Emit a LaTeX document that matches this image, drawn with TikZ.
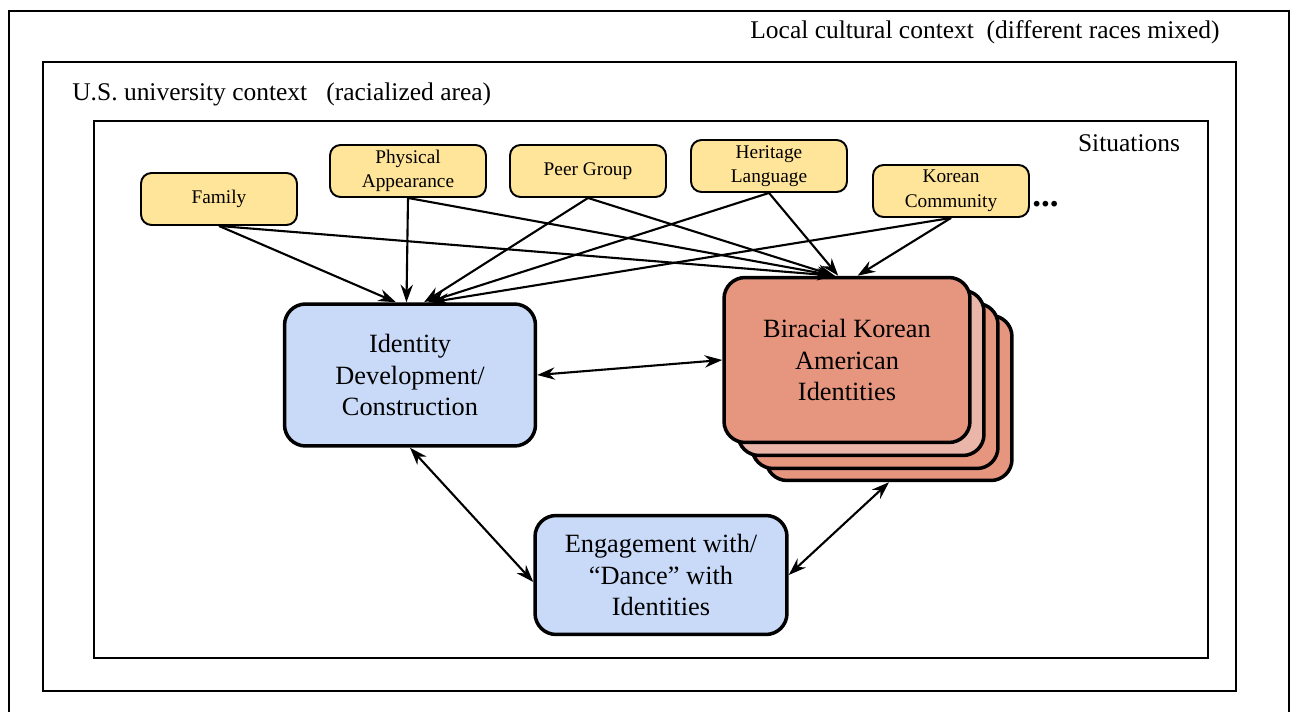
\documentclass[tikz,border=0pt]{standalone}
\usepackage{fontspec}
\setmainfont{Liberation Serif}
\usetikzlibrary{arrows.meta,positioning}
\definecolor{factorfill}{HTML}{FFE599}
\definecolor{idfill}{HTML}{C9DAF8}
\definecolor{birfill}{HTML}{E6957F}
\definecolor{birlight}{HTML}{EAB6AA}

\tikzset{
  frame/.style={line width=1.4pt},
  ctxlabel/.style={font=\rmfamily\fontsize{14.5}{17}\selectfont, inner sep=0pt},
  factor/.style={draw, line width=1.1pt, rounded corners=6pt, fill=factorfill,
    minimum width=3.12cm, minimum height=1.04cm, align=center, inner sep=1pt,
    font=\rmfamily\fontsize{11}{14}\selectfont},
  bigbox/.style={draw, line width=2pt, rounded corners=12pt, align=center,
    font=\rmfamily\fontsize{15}{18}\selectfont},
  birbox/.style={bigbox, fill=birfill, minimum width=4.92cm, minimum height=3.3cm},
  link/.style={-{Stealth[length=10pt,width=7pt]}, line width=1.2pt},
  twoway/.style={{Stealth[length=10pt,width=7pt]}-{Stealth[length=10pt,width=7pt]}, line width=1.2pt}
}

\begin{document}
\begin{tikzpicture}[x=0.02cm, y=-0.02cm]
  \useasboundingbox (0,0) rectangle (1292,712);

  % nested contexts
  \draw[frame] (9,11) rectangle (1289,740);
  \draw[frame] (43,62) rectangle (1236,691);
  \draw[frame] (94,121) rectangle (1208,658);
  \node[ctxlabel] (local) at (985,32) {Local cultural context\ \ (different races mixed)};
  \node[ctxlabel, anchor=west] (univ) at (72,94) {U.S. university context\ \ \ (racialized area)};
  \node[ctxlabel] (situ) at (1129,143) {Situations};

  % situations
  \node[factor] (family) at (219,199) {Family};
  \node[factor] (phys) at (408,171) {Physical\\Appearance};
  \node[factor] (peer) at (588,171) {Peer Group};
  \node[factor] (herit) at (769,166) {Heritage\\Language};
  \node[factor] (korcom) at (951,191) {Korean\\Community};
  \node[font=\rmfamily\fontsize{20}{20}\selectfont\bfseries, anchor=west, inner sep=0pt] (more) at (1032,204) {...};

  % identity boxes
  \node[bigbox, fill=idfill, minimum width=5.02cm, minimum height=2.84cm] (ident) at (410,375)
    {Identity\\Development/\\Construction};
  \node[bigbox, fill=idfill, minimum width=5.04cm, minimum height=2.38cm] (engage) at (661,575)
    {Engagement with/\\``Dance'' with\\Identities};

  \coordinate (birc) at (847,360);
  \node[birbox] (bir3) at ([shift={(42,38)}]birc) {};
  \node[birbox] (bir2) at ([shift={(28,26)}]birc) {};
  \node[birbox, fill=birlight] (bir1) at ([shift={(14,13)}]birc) {};
  \node[birbox] (bir) at (birc) {Biracial Korean\\American\\Identities};

  % influences
  \foreach \src/\dx in {family/-8, phys/-2, peer/8, herit/10, korcom/12}
    \draw[link] (\src.south) -- ([xshift=\dx]ident.north);
  \foreach \src/\dx in {family/-7, phys/-7, peer/-7, herit/-5, korcom/6}
    \draw[link] (\src.south) -- ([xshift=\dx]bir.north);

  \draw[twoway] (ident.east) -- (bir.west);
  \draw[twoway] (ident.south) -- ([yshift=-4]engage.west);
  \draw[twoway] (engage.east) -- (bir3.south);
\end{tikzpicture}
\end{document}
